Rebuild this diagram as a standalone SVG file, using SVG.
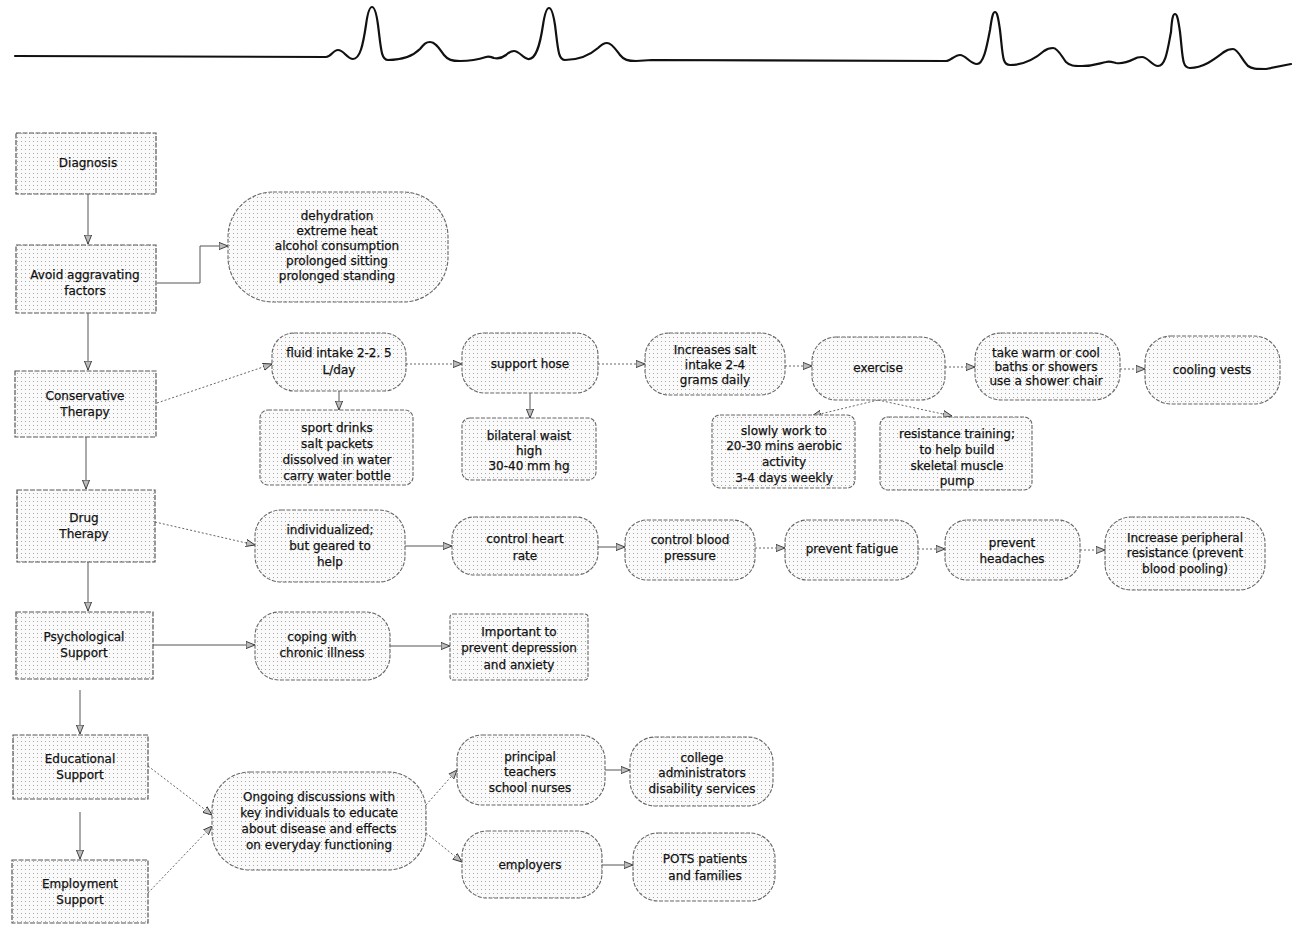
<svg xmlns="http://www.w3.org/2000/svg" width="1293" height="926" viewBox="0 0 1293 926">
<defs>
<pattern id="dots" width="4" height="4" patternUnits="userSpaceOnUse">
<rect width="4" height="4" fill="#fafafa"/>
<rect x="1" y="1" width="1" height="1" fill="#a8a8a8"/>
</pattern>
<marker id="ah" viewBox="0 0 10 10" refX="10" refY="5" markerWidth="9" markerHeight="9" orient="auto" markerUnits="userSpaceOnUse">
<path d="M0,1 L10,5 L0,9 Z" fill="#bbb" stroke="#333" stroke-width="1"/>
</marker>
<style>
.box{fill:url(#dots);stroke:#555;stroke-width:1.2;stroke-dasharray:5 1.5}
.nd{fill:url(#dots);stroke:#666;stroke-width:1.1;stroke-dasharray:4 1.5}
text{font-family:"DejaVu Sans","Liberation Sans",sans-serif;font-size:12px;fill:#111;text-anchor:middle;stroke:#111;stroke-width:0.25}
.c{fill:none;stroke:#555;stroke-width:1;marker-end:url(#ah)}
.d{fill:none;stroke:#666;stroke-width:1;stroke-dasharray:2 2;marker-end:url(#ah)}
.ecg{fill:none;stroke:#111;stroke-width:2.2;stroke-linejoin:round;stroke-linecap:round}
</style>
</defs>
<rect width="1293" height="926" fill="#fff"/>
<path class="ecg" d="M15,56 L326,57 C331,57 333,50 338,50 C344,50 347,59 353,59 C360,59 363,45 366,25 C368,10 370,7 372,7 C374,7 376,10 378,25 C381,48 381,60 388,60 C402,60 412,57 420,49 C424,44 426,42 430,42 C436,42 440,50 444,55 C448,60 452,61 460,61 C472,61 480,59 486,57 C489,56 491,57 494,58 C498,59 502,58 506,55 C509,52 511,51 514,51 C519,51 523,58 528,59 C536,60 540,45 543,25 C545,12 547,8 549,8 C551,8 553,12 555,25 C558,48 558,60 565,60 C580,60 590,55 598,48 C602,44 604,43 607,43 C612,43 616,50 620,55 C624,60 628,61 636,61 L652,60 L946,61 C950,61 955,55 960,55 C966,55 970,64 977,64 C984,64 987,45 990,30 C992,16 993,12 995,12 C997,12 998,16 1000,30 C1003,55 1002,65 1010,65 C1024,65 1036,58 1044,51 C1048,48 1050,48 1053,48 C1058,48 1062,57 1066,62 C1070,66 1074,66 1082,66 C1094,66 1100,63 1106,62 C1110,61 1112,62 1116,63 C1122,64 1128,62 1134,59 C1137,57 1139,57 1142,57 C1148,57 1152,66 1158,66 C1166,66 1168,47 1171,32 C1172,18 1173,14 1175,14 C1177,14 1178,18 1180,32 C1183,58 1182,68 1190,68 C1204,68 1216,58 1224,52 C1228,49 1230,49 1233,49 C1238,49 1242,60 1248,66 C1252,69 1256,69 1266,69 L1291,64"/>

<g id="connectors">
<path class="c" d="M88,194 V244"/>
<path class="c" d="M88,313 V370"/>
<path class="c" d="M86,437 V489"/>
<path class="c" d="M88,562 V611"/>
<path class="c" d="M80,690 V734"/>
<path class="c" d="M80,812 V859"/>
<path class="c" d="M157,283 H200 V246 H228"/>
<path class="d" d="M157,403 L272,364"/>
<path class="d" d="M406,364 H462"/>
<path class="d" d="M598,364 H645"/>
<path class="d" d="M785,366 H812"/>
<path class="d" d="M945,367 H975"/>
<path class="d" d="M1120,369 H1145"/>
<path class="c" d="M339,391 V410"/>
<path class="c" d="M530,393 V418"/>
<path class="d" d="M878,400 L812,416"/>
<path class="d" d="M878,400 L952,416"/>
<path class="d" d="M155,522 L255,545"/>
<path class="c" d="M405,546 H452"/>
<path class="c" d="M598,547 H625"/>
<path class="d" d="M755,548 H785"/>
<path class="d" d="M918,549 H945"/>
<path class="d" d="M1080,550 H1105"/>
<path class="c" d="M153,645 H255"/>
<path class="c" d="M390,646 H450"/>
<path class="d" d="M148,766 L212,815"/>
<path class="d" d="M148,893 L212,826"/>
<path class="d" d="M426,805 L457,770"/>
<path class="d" d="M426,833 L462,862"/>
<path class="c" d="M605,770 H630"/>
<path class="c" d="M602,865 H633"/>
</g>

<g id="diagnosis"><rect class="box" x="16" y="133" width="140" height="61"/><text x="88" y="167">Diagnosis</text></g>
<g id="avoid"><rect class="box" x="16" y="245" width="140" height="68"/><text x="85" y="279">Avoid aggravating</text><text x="85" y="295">factors</text></g>
<g id="conservative"><rect class="box" x="15" y="371" width="141" height="66"/><text x="85" y="400">Conservative</text><text x="85" y="416">Therapy</text></g>
<g id="drug"><rect class="box" x="17" y="490" width="138" height="72"/><text x="84" y="522">Drug</text><text x="84" y="538">Therapy</text></g>
<g id="psych"><rect class="box" x="16" y="612" width="137" height="67"/><text x="84" y="641">Psychological</text><text x="84" y="657">Support</text></g>
<g id="educational"><rect class="box" x="13" y="735" width="135" height="64"/><text x="80" y="763">Educational</text><text x="80" y="779">Support</text></g>
<g id="employment"><rect class="box" x="12" y="860" width="136" height="63"/><text x="80" y="888">Employment</text><text x="80" y="904">Support</text></g>

<g id="aggravating"><rect class="nd" x="228" y="192" width="220" height="110" rx="45"/><text x="337" y="220">dehydration</text><text x="337" y="235">extreme heat</text><text x="337" y="250">alcohol consumption</text><text x="337" y="265">prolonged sitting</text><text x="337" y="280">prolonged standing</text></g>

<g id="fluid"><rect class="nd" x="272" y="333" width="134" height="58" rx="22"/><text x="339" y="357">fluid intake 2-2. 5</text><text x="339" y="374">L/day</text></g>
<g id="hose"><rect class="nd" x="462" y="333" width="136" height="60" rx="22"/><text x="530" y="368">support hose</text></g>
<g id="salt"><rect class="nd" x="645" y="333" width="140" height="62" rx="24"/><text x="715" y="354">Increases salt</text><text x="715" y="369">intake 2-4</text><text x="715" y="384">grams daily</text></g>
<g id="exercise"><rect class="nd" x="812" y="337" width="133" height="63" rx="24"/><text x="878" y="372">exercise</text></g>
<g id="baths"><rect class="nd" x="975" y="333" width="145" height="67" rx="26"/><text x="1046" y="357">take warm or cool</text><text x="1046" y="371">baths or showers</text><text x="1046" y="385">use a shower chair</text></g>
<g id="cooling"><rect class="nd" x="1145" y="336" width="135" height="68" rx="26"/><text x="1212" y="374">cooling vests</text></g>

<g id="sport"><rect class="nd" x="260" y="410" width="153" height="75" rx="8"/><text x="337" y="432">sport drinks</text><text x="337" y="448">salt packets</text><text x="337" y="464">dissolved in water</text><text x="337" y="480">carry water bottle</text></g>
<g id="bilateral"><rect class="nd" x="462" y="418" width="134" height="62" rx="8"/><text x="529" y="440">bilateral waist</text><text x="529" y="455">high</text><text x="529" y="470">30-40 mm hg</text></g>
<g id="slowly"><rect class="nd" x="712" y="415" width="143" height="73" rx="8"/><text x="784" y="435">slowly work to</text><text x="784" y="450">20-30 mins aerobic</text><text x="784" y="466">activity</text><text x="784" y="482">3-4 days weekly</text></g>
<g id="resistance"><rect class="nd" x="880" y="417" width="152" height="73" rx="8"/><text x="957" y="438">resistance training;</text><text x="957" y="454">to help build</text><text x="957" y="470">skeletal muscle</text><text x="957" y="485">pump</text></g>

<g id="individualized"><rect class="nd" x="255" y="510" width="150" height="72" rx="26"/><text x="330" y="534">individualized;</text><text x="330" y="550">but geared to</text><text x="330" y="566">help</text></g>
<g id="heart"><rect class="nd" x="452" y="517" width="146" height="58" rx="22"/><text x="525" y="543">control heart</text><text x="525" y="560">rate</text></g>
<g id="blood"><rect class="nd" x="625" y="520" width="130" height="60" rx="22"/><text x="690" y="544">control blood</text><text x="690" y="560">pressure</text></g>
<g id="fatigue"><rect class="nd" x="785" y="520" width="133" height="60" rx="22"/><text x="852" y="553">prevent fatigue</text></g>
<g id="headaches"><rect class="nd" x="945" y="520" width="135" height="60" rx="22"/><text x="1012" y="547">prevent</text><text x="1012" y="563">headaches</text></g>
<g id="peripheral"><rect class="nd" x="1105" y="517" width="160" height="73" rx="26"/><text x="1185" y="542">Increase peripheral</text><text x="1185" y="557">resistance (prevent</text><text x="1185" y="573">blood pooling)</text></g>

<g id="coping"><rect class="nd" x="255" y="612" width="135" height="68" rx="24"/><text x="322" y="641">coping with</text><text x="322" y="657">chronic illness</text></g>
<g id="important"><rect class="nd" x="450" y="614" width="138" height="66" rx="3"/><text x="519" y="636">Important to</text><text x="519" y="652">prevent depression</text><text x="519" y="669">and anxiety</text></g>

<g id="ongoing"><rect class="nd" x="212" y="772" width="214" height="98" rx="38"/><text x="319" y="801">Ongoing discussions with</text><text x="319" y="817">key individuals to educate</text><text x="319" y="833">about disease and effects</text><text x="319" y="849">on everyday functioning</text></g>
<g id="principal"><rect class="nd" x="457" y="735" width="148" height="70" rx="25"/><text x="530" y="761">principal</text><text x="530" y="776">teachers</text><text x="530" y="792">school nurses</text></g>
<g id="college"><rect class="nd" x="630" y="737" width="143" height="69" rx="25"/><text x="702" y="762">college</text><text x="702" y="777">administrators</text><text x="702" y="793">disability services</text></g>
<g id="employers"><rect class="nd" x="462" y="831" width="140" height="67" rx="25"/><text x="530" y="869">employers</text></g>
<g id="pots"><rect class="nd" x="633" y="833" width="142" height="68" rx="25"/><text x="705" y="863">POTS patients</text><text x="705" y="880">and families</text></g>
</svg>
